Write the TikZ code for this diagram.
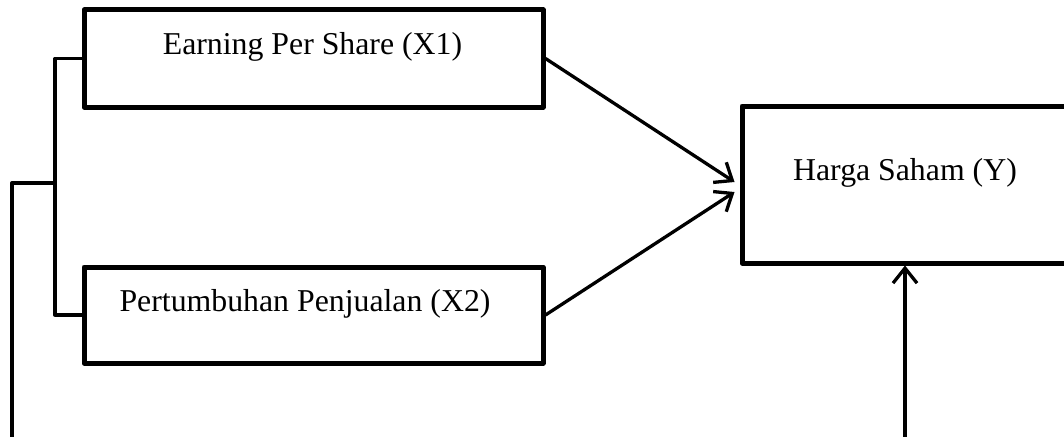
\documentclass[tikz,border=0pt]{standalone}
\usepackage{fontspec}
\setmainfont{Liberation Serif}
\usetikzlibrary{arrows.meta}
\begin{document}
\begin{tikzpicture}[x=1pt,y=-1pt,
  box/.style={draw,line width=5pt,rectangle,inner sep=0pt,line join=round},
  lbl/.style={anchor=base,inner sep=0pt,font=\fontsize{31.8}{38}\selectfont},
  conn/.style={line width=3.3pt,line join=round},
  arr/.style={conn,-{Straight Barb[length=15pt,width=24pt,line width=3.3pt]}}]
\useasboundingbox (0,0) rectangle (1064,436);
\node[box,minimum width=459pt,minimum height=97pt] (b1) at (313.5,58.5) {};
\node[box,minimum width=459pt,minimum height=96pt] (b2) at (313.5,315) {};
\node[box,minimum width=348pt,minimum height=157pt] (by) at (916,184.5) {};
\node[lbl] (t1) at (312.5,55) {Earning Per Share (X1)};
\node[lbl] (t2) at (305,311) {Pertumbuhan Penjualan (X2)};
\node[lbl] (t3) at (905,180) {Harga Saham (Y)};
\coordinate (j) at (55,183);
\coordinate (l) at (12,183);
\coordinate (lb) at (12,440);
\coordinate (bot) at (905,440);
\draw[conn] (b1.west) -| (j) |- (b2.west);
\draw[conn] (j) -- (l) -- (lb);
\draw[arr] (b1.east) -- ([shift={(-5,-2.5)}]by.west);
\draw[arr] (b2.east) -- ([shift={(-5,7.5)}]by.west);
\draw[arr] (bot) -- (bot |- by.south);
\end{tikzpicture}
\end{document}
